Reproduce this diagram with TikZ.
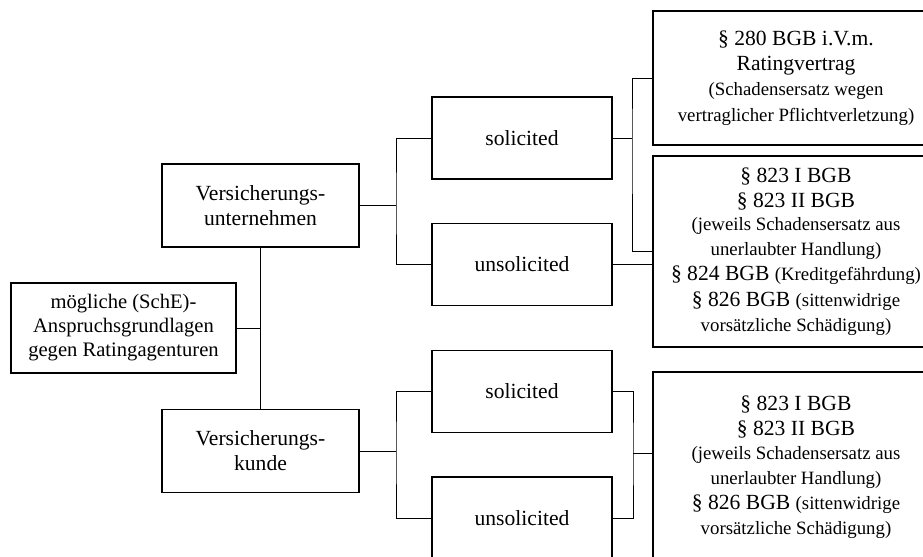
\documentclass[tikz,border=0pt]{standalone}
\usepackage{fontspec}
\setmainfont{Liberation Serif}
\usetikzlibrary{positioning,calc}
\newcommand{\gross}{\fontsize{10.8}{12.6}\selectfont}
\newcommand{\klein}{\fontsize{9.4}{11}\selectfont}
\tikzset{
  box/.style={draw,line width=0.75pt,inner sep=0pt,align=center,font=\gross,fill=white},
  pbox/.style={box,minimum width=98.5pt,minimum height=41.5pt},
  sbox/.style={box,minimum width=90pt,minimum height=41pt},
  gbox/.style={box,minimum width=143pt,minimum height=95.5pt},
  con/.style={line width=0.4pt},
}

\begin{document}
\begin{tikzpicture}[x=0.5pt,y=-0.5pt]
\useasboundingbox (0,0) rectangle (923,557);
% linke Spalte
\node[box,minimum width=112.5pt,minimum height=45pt,font=\fontsize{10.3}{12}\selectfont] (wurzel) at (123.5,328) {m\"ogliche (SchE)-\\Anspruchsgrundlagen\\gegen Ratingagenturen};
\node[pbox] (vu) at (260.5,205.5) {Versicherungs-\\unternehmen};
\node[pbox] (vk) at (260.5,451) {Versicherungs-\\kunde};
% mittlere Spalte
\node[sbox] (sol1) at (522,138) {solicited};
\node[sbox] (uns1) at (522,264.5) {unsolicited};
\node[sbox] (sol2) at (522,391.5) {solicited};
\node[sbox] (uns2) at (522,518) {unsolicited};
% rechte Spalte
\node[box,minimum width=143pt,minimum height=67pt] (vertrag) at (796,78) {\S~280 BGB i.V.m.\\Ratingvertrag\\{\klein (Schadensersatz wegen}\\{\klein vertraglicher Pflichtverletzung)}};
\node[gbox] (delikt1) at (796,251.5) {\S~823 I BGB\\\S~823 II BGB\\[-1pt]{\klein (jeweils Schadensersatz aus}\\{\klein unerlaubter Handlung)}\\\S~824 BGB {\klein (Kreditgef\"ahrdung)}\\\S~826 BGB {\klein (sittenwidrige}\\{\klein vors\"atzliche Sch\"adigung)}};
\node[gbox] (delikt2) at (796,467.5) {\S~823 I BGB\\\S~823 II BGB\\[-1pt]{\klein (jeweils Schadensersatz aus}\\{\klein unerlaubter Handlung)}\\\S~826 BGB {\klein (sittenwidrige}\\{\klein vors\"atzliche Sch\"adigung)}};
% Verbindungen
\coordinate (k1) at (396,205.5);
\coordinate (k2) at (632,138);
\coordinate (k3) at (396,451);
\coordinate (k4) at (633,453);
\draw[con] (vu.south) -- (vk.north);
\draw[con] (wurzel.east) -- (wurzel.east -| vu.south);
\draw[con] (vu.east) -- (k1);
\draw[con] (sol1.west) -| (k1) |- (uns1.west);
\draw[con] (sol1.east) -- (k2);
\draw[con] (vertrag.west) -| (k2) |- (delikt1.west);
\draw[con] (uns1.east) -- (uns1.east -| delikt1.west);
\draw[con] (vk.east) -- (k3);
\draw[con] (sol2.west) -| (k3) |- (uns2.west);
\draw[con] (sol2.east) -| (k4) |- (uns2.east);
\draw[con] (k4) -- (k4 -| delikt2.west);
\end{tikzpicture}
\end{document}
